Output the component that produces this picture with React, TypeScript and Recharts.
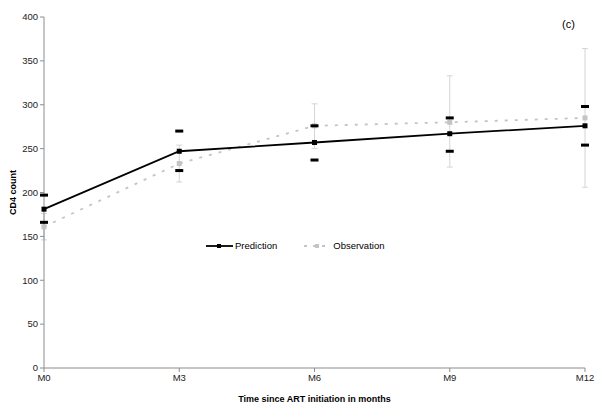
import React from 'react'
import { LineChart, Line, XAxis, YAxis, ErrorBar, Legend } from 'recharts'

const months = ['M0', 'M3', 'M6', 'M9', 'M12']
const prediction = [181, 247, 257, 267, 276]
const predLow = [166, 225, 237, 247, 254]
const predHigh = [197, 270, 276, 285, 298]
const observation = [161, 233, 276, 280, 285]
const obsLow = [146, 212, 250, 229, 206]
const obsHigh = [176, 254, 301, 333, 364]
const yTicks = [0, 50, 100, 150, 200, 250, 300, 350, 400]

const data = months.map((m, i) => ({
  month: m,
  prediction: prediction[i],
  predLow: predLow[i],
  predHigh: predHigh[i],
  observation: observation[i],
  obsErr: [observation[i] - obsLow[i], obsHigh[i] - observation[i]],
}))

const FONT = '"Liberation Sans", Arial, sans-serif'
const AXIS = '#8c8c8c'
const OBS = '#c4c4c4'

// short thick black dash used for the prediction interval ends
const Cap = (props: any) => {
  const { cx, cy } = props
  if (cx == null || cy == null) return null
  return <rect x={cx - 4} y={cy - 1.5} width={8} height={3} fill="#000" />
}

const Square = (color: string) => (props: any) => {
  const { cx, cy } = props
  if (cx == null || cy == null) return null
  return <rect x={cx - 2.5} y={cy - 2.5} width={5} height={5} fill={color} />
}

const renderLegend = () => (
  <div style={{ display: 'flex', alignItems: 'center', fontFamily: FONT, fontSize: 9.5, color: '#000' }}>
    <svg width={28} height={8}>
      <line x1={0} y1={4} x2={27} y2={4} stroke="#000" strokeWidth={1.8} />
      <rect x={11} y={2} width={4} height={4} fill="#000" />
    </svg>
    <span style={{ marginLeft: 1, marginRight: 27 }}>Prediction</span>
    <svg width={28} height={8}>
      <line x1={0} y1={4} x2={27} y2={4} stroke={OBS} strokeWidth={1.8} strokeDasharray="3 6" />
      <rect x={11} y={2} width={4} height={4} fill={OBS} />
    </svg>
    <span style={{ marginLeft: 1 }}>Observation</span>
  </div>
)

export default function App() {
  return (
    <div style={{ position: 'absolute', left: 0, top: 0, width: 601, height: 409, background: '#fff' }}>
      <LineChart width={601} height={409} data={data} margin={{ top: 17, right: 16, bottom: 11, left: 0 }}>
        <XAxis
          dataKey="month"
          stroke={AXIS}
          tickSize={4}
          tick={{ fontSize: 9.5, fill: '#222', fontFamily: FONT }}
          height={30}
          label={{
            value: 'Time since ART initiation in months',
            position: 'insideBottom',
            offset: -4,
            style: { fontSize: 9, fontWeight: 'bold', fill: '#000', fontFamily: FONT },
          }}
        />
        <YAxis
          domain={[0, 400]}
          ticks={yTicks}
          width={44}
          stroke={AXIS}
          tickSize={4}
          tick={{ fontSize: 9.5, fill: '#222', fontFamily: FONT }}
          label={{
            value: 'CD4 count',
            angle: -90,
            position: 'center',
            dx: -9,
            style: { fontSize: 9, fontWeight: 'bold', fill: '#000', fontFamily: FONT },
          }}
        />
        <Legend
          content={renderLegend}
          layout="horizontal"
          verticalAlign="middle"
          align="center"
          wrapperStyle={{ position: 'absolute', top: 240, left: 206, width: 'auto' }}
        />
        <Line
          dataKey="observation"
          stroke={OBS}
          strokeWidth={1.8}
          strokeDasharray="3 7"
          dot={Square(OBS)}
          isAnimationActive={false}
        >
          <ErrorBar dataKey="obsErr" width={3} stroke="#d4d4d4" strokeWidth={1} direction="y" />
        </Line>
        <Line
          dataKey="prediction"
          stroke="#000"
          strokeWidth={1.8}
          dot={Square('#000')}
          isAnimationActive={false}
        />
        <Line dataKey="predLow" stroke="none" dot={Cap} legendType="none" isAnimationActive={false} />
        <Line dataKey="predHigh" stroke="none" dot={Cap} legendType="none" isAnimationActive={false} />
      </LineChart>
      <div style={{ position: 'absolute', left: 562, top: 18, fontFamily: FONT, fontSize: 11, color: '#000' }}>(c)</div>
    </div>
  )
}
